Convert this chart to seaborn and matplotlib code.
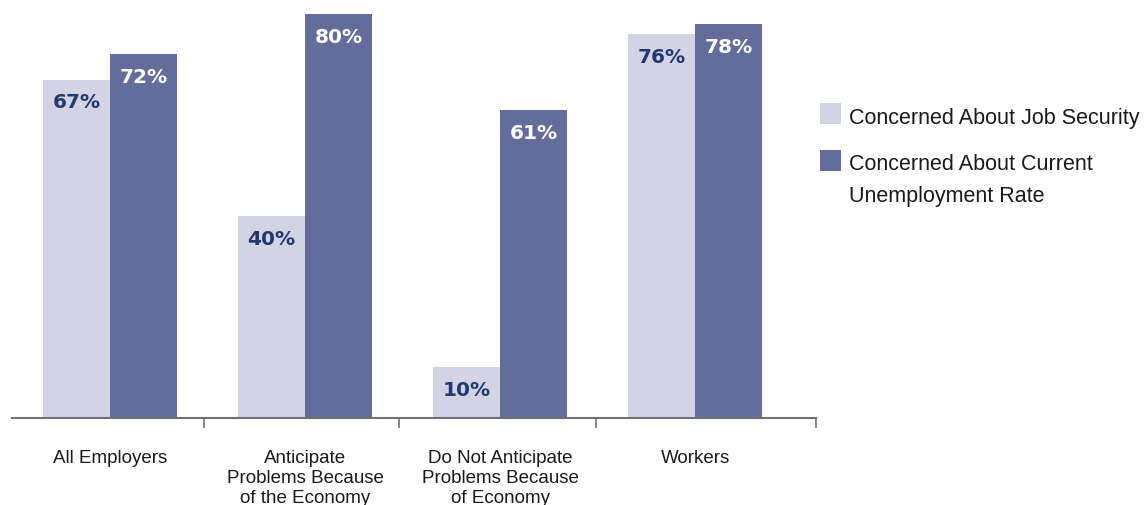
import pandas as pd
import matplotlib.pyplot as plt
from matplotlib.patches import Rectangle
import seaborn as sns

# chart data
categories = ['All Employers',
              'Anticipate\nProblems Because\nof the Economy',
              'Do Not Anticipate\nProblems Because\nof Economy',
              'Workers']
job_security = [67, 40, 10, 76]
unemployment_rate = [72, 80, 61, 78]
series_names = ['Concerned About Job Security',
                'Concerned About Current\nUnemployment Rate']

df = pd.DataFrame({
    'category': categories * 2,
    'value': job_security + unemployment_rate,
    'series': [series_names[0]] * len(categories) + [series_names[1]] * len(categories),
})

sns.set_style('white')
plt.rcParams['font.family'] = ['Liberation Sans', 'DejaVu Sans']

W, H = 1147, 506
fig = plt.figure(figsize=(W / 100, H / 100), dpi=100)
ax = fig.add_axes([12 / W, 87 / H, 804 / W, 419 / H])

palette = ['#D3D3E4', '#646C9B']
sns.barplot(data=df, x='category', y='value', hue='series', order=categories,
            hue_order=series_names, palette=palette, width=0.69, saturation=1,
            errorbar=None, linewidth=0, legend=False, ax=ax)

# value labels inside the top of each bar
label_colors = ['#1F3A73', 'white']
for container, col in zip(ax.containers, label_colors):
    for bar in container:
        h = bar.get_height()
        ax.annotate(f'{h:.0f}%', (bar.get_x() + bar.get_width() / 2, h),
                    xytext=(0, -16), textcoords='offset points',
                    ha='center', va='center', fontsize=14.5, fontweight='bold',
                    color=col, family='DejaVu Sans')

ax.set_ylim(0, 82.97)
ax.set_xlim(-0.5026, 3.62)
ax.set_yticks([])
ax.set_xlabel('')
ax.set_ylabel('')
for s in ['left', 'top', 'right']:
    ax.spines[s].set_visible(False)
ax.spines['bottom'].set_color('#707070')
ax.spines['bottom'].set_linewidth(1.5)

ax.tick_params(axis='x', which='major', length=0, pad=22, labelsize=13.5,
               labelcolor='#1a1a1a')
for t in ax.get_xticklabels():
    t.set_linespacing(1.24)
ax.set_xticks([0.48, 1.48, 2.49, 3.62], minor=True)
ax.tick_params(axis='x', which='minor', length=7, width=1.2, color='#707070',
               direction='out', bottom=True)

# legend, drawn by hand so the swatch sits next to the first text line
legend_tops = [104, 151]
line_step = 31
for name, col, top in zip(series_names, palette, legend_tops):
    fig.add_artist(Rectangle((820 / W, 1 - (top + 21) / H), 21 / W, 21 / H,
                             transform=fig.transFigure, facecolor=col,
                             edgecolor='none'))
    n_lines = name.count('\n') + 1
    baseline = top + 19.7 + (n_lines - 1) * line_step
    fig.text(849 / W, 1 - baseline / H, name, va='baseline', ha='left',
             fontsize=15.5, color='#1a1a1a', linespacing=1.68)

fig.savefig('out.png', dpi=100)
